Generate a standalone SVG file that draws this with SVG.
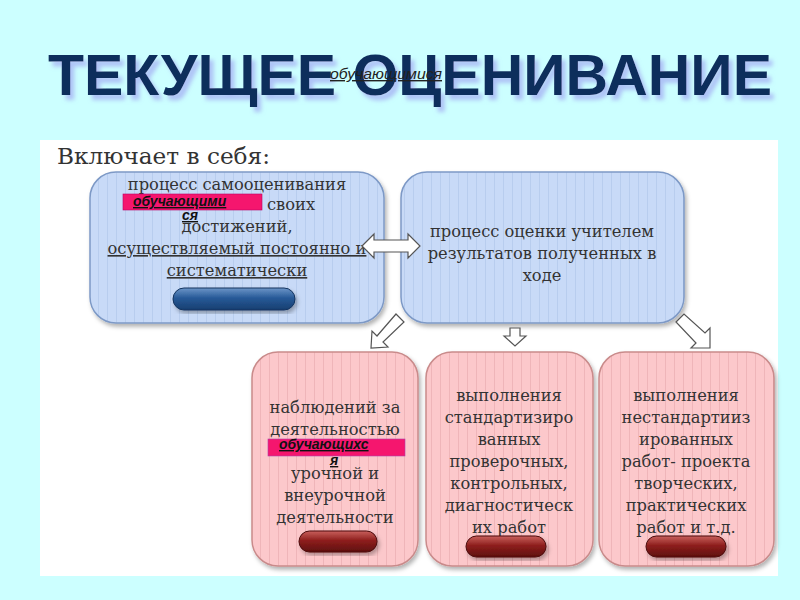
<svg xmlns="http://www.w3.org/2000/svg" width="800" height="600" viewBox="0 0 800 600">
<defs>
<style>
.title{font-family:"Liberation Sans",Arial,sans-serif;font-weight:bold;font-size:58px;fill:#0b2d5c;}
.serif{font-family:"DejaVu Serif","Liberation Serif",serif;fill:#333;}
.t{font-size:16.3px;text-anchor:middle;}
.lab{font-family:"Liberation Sans",Arial,sans-serif;font-weight:bold;font-style:italic;font-size:14px;fill:#111;text-decoration:underline;}
.blue{fill:url(#stripeB);stroke:#7d99c6;stroke-width:1.5;filter:url(#sh);}
.pink{fill:url(#stripeP);stroke:#c98b8b;stroke-width:1.5;filter:url(#sh);}
.arr{fill:#fff;stroke:#555;stroke-width:1.2;}
</style>
<pattern id="stripeB" width="9" height="10" patternUnits="userSpaceOnUse">
<rect width="9" height="10" fill="#c8daf7"/><rect x="8" width="1" height="10" fill="#b8cdee"/>
</pattern>
<pattern id="stripeP" width="9" height="10" patternUnits="userSpaceOnUse">
<rect width="9" height="10" fill="#fcc8cb"/><rect x="8" width="1" height="10" fill="#efb5b9"/>
</pattern>
<linearGradient id="gB" x1="0" y1="0" x2="0" y2="1">
<stop offset="0" stop-color="#6c95c8"/><stop offset="0.45" stop-color="#275a98"/><stop offset="1" stop-color="#173e70"/>
</linearGradient>
<linearGradient id="gR" x1="0" y1="0" x2="0" y2="1">
<stop offset="0" stop-color="#c9605c"/><stop offset="0.45" stop-color="#8e1f1d"/><stop offset="1" stop-color="#5e0f0e"/>
</linearGradient>
<filter id="sh" x="-10%" y="-10%" width="125%" height="125%">
<feDropShadow dx="2" dy="3" stdDeviation="2" flood-color="#000" flood-opacity="0.3"/>
</filter>
<filter id="tsh" x="-5%" y="-20%" width="110%" height="160%">
<feDropShadow dx="4" dy="5" stdDeviation="2" flood-color="#9a9af0" flood-opacity="0.6"/>
</filter>
</defs>
<rect width="800" height="600" fill="#ccffff"/>
<rect x="40" y="140" width="738" height="436" fill="#ffffff"/>

<g id="title">
<text class="title" x="48" y="95" textLength="724" lengthAdjust="spacingAndGlyphs" filter="url(#tsh)">ТЕКУЩЕЕ ОЦЕНИВАНИЕ</text>
<text x="330" y="79" font-family="Liberation Sans,Arial,sans-serif" font-style="italic" font-size="14" fill="#222" text-decoration="underline" textLength="112" lengthAdjust="spacingAndGlyphs">обучающимися</text>
</g>

<g id="heading">
<text class="serif" x="57" y="164" font-size="23" textLength="213" lengthAdjust="spacingAndGlyphs">Включает в себя:</text>
</g>

<g id="box-self">
<rect class="blue" x="90" y="172" width="294" height="151" rx="26"/>
<text class="serif t" x="237" y="190">процесс самооценивания</text>
<rect x="123" y="194" width="139" height="16" fill="#f5166e" stroke="#b06" stroke-width="0.6"/>
<text class="serif t" x="291" y="210">своих</text>
<text class="lab" x="133" y="206">обучающими</text>
<text class="lab" x="182" y="220">ся</text>
<text class="serif t" x="237" y="232">достижений,</text>
<text class="serif t" x="237" y="254" text-decoration="underline">осуществляемый постоянно и</text>
<text class="serif t" x="237" y="276" text-decoration="underline">систематически</text>
<rect x="173" y="288" width="122" height="22" rx="11" fill="url(#gB)" stroke="#13335e" filter="url(#sh)"/>
</g>

<g id="box-teacher">
<rect class="blue" x="401" y="172" width="283" height="151" rx="26"/>
<text class="serif t" x="542" y="237">процесс оценки учителем</text>
<text class="serif t" x="542" y="259">результатов полученных в</text>
<text class="serif t" x="542" y="281">ходе</text>
</g>

<g id="box-observe">
<rect class="pink" x="252" y="352" width="166" height="214" rx="26"/>
<text class="serif t" x="335" y="413">наблюдений за</text>
<text class="serif t" x="335" y="435">деятельностью</text>
<rect x="268" y="439" width="137" height="17" fill="#f5166e" stroke="#a4a" stroke-width="0.6"/>
<text class="lab" x="279" y="449">обучающихс</text>
<text class="lab" x="330" y="465">я</text>
<text class="serif t" x="335" y="479">урочной и</text>
<text class="serif t" x="335" y="501">внеурочной</text>
<text class="serif t" x="335" y="523">деятельности</text>
<rect x="299" y="531" width="78" height="21" rx="10.5" fill="url(#gR)" stroke="#4a0a0a" filter="url(#sh)"/>
</g>

<g id="box-standard">
<rect class="pink" x="426" y="352" width="167" height="214" rx="26"/>
<text class="serif t" x="509" y="401">выполнения</text>
<text class="serif t" x="509" y="423">стандартизиро</text>
<text class="serif t" x="509" y="445">ванных</text>
<text class="serif t" x="509" y="467">проверочных,</text>
<text class="serif t" x="509" y="489">контрольных,</text>
<text class="serif t" x="509" y="511">диагностическ</text>
<text class="serif t" x="509" y="533">их работ</text>
<rect x="466" y="536" width="80" height="21" rx="10.5" fill="url(#gR)" stroke="#4a0a0a" filter="url(#sh)"/>
</g>

<g id="box-nonstandard">
<rect class="pink" x="599" y="352" width="175" height="214" rx="26"/>
<text class="serif t" x="686" y="401">выполнения</text>
<text class="serif t" x="686" y="423">нестандартииз</text>
<text class="serif t" x="686" y="445">ированных</text>
<text class="serif t" x="686" y="467">работ- проекта</text>
<text class="serif t" x="686" y="489">творческих,</text>
<text class="serif t" x="686" y="511">практических</text>
<text class="serif t" x="686" y="533">работ и т.д.</text>
<rect x="646" y="536" width="80" height="21" rx="10.5" fill="url(#gR)" stroke="#4a0a0a" filter="url(#sh)"/>
</g>

<g id="connectors">
<path class="arr" d="M362,246 L374,234 L374,240 L408,240 L408,234 L420,246 L408,258 L408,252 L374,252 L374,258 Z"/>
<path class="arr" d="M396,314 L404,322 L383,342 L388,347 L371,348 L372,331 L377,336 Z"/>
<path class="arr" d="M510,328 L520,328 L520,336 L526,336 L515,346 L504,336 L510,336 Z"/>
<path class="arr" d="M676,322 L684,314 L705,333 L710,328 L710,348 L691,348 L696,343 Z"/>
</g>
</svg>
